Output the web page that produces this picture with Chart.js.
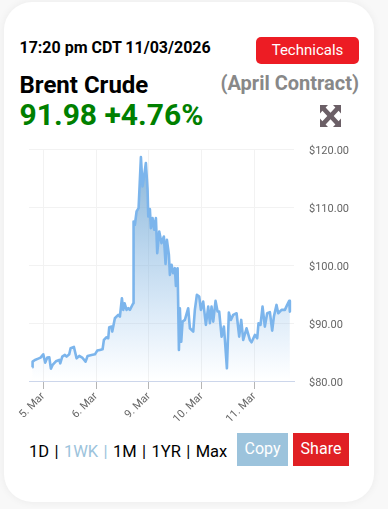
<!DOCTYPE html>
<html>
<head>
<meta charset="utf-8">
<script src="https://cdn.jsdelivr.net/npm/chart.js@4"></script>
<style>
html, body { margin: 0; padding: 0; width: 388px; height: 509px; overflow: hidden; background: #f8f8f8; font-family: Roboto, sans-serif; }
.card { position: absolute; left: 4px; top: 2px; width: 370px; height: 500px; background: #fff; border-radius: 28px; box-shadow: 0 0 8px rgba(0,0,0,0.06); }
.t { position: absolute; white-space: nowrap; line-height: 1; }
.btn { position: absolute; color: #fff; text-align: center; }
#chart { position: absolute; left: 0; top: 135px; }
</style>
</head>
<body>
<div class="card"></div>
<div class="t" style="left:19.5px;top:40px;font-size:16px;font-weight:700;color:#000">17:20 pm CDT 11/03/2026</div>
<div class="btn" style="left:256px;top:37px;width:103px;height:27px;line-height:27px;background:#ed1c24;border-radius:5px;font-size:15px">Technicals</div>
<div class="t" style="left:19.5px;top:73px;font-size:24px;font-weight:700;color:#000">Brent Crude</div>
<div class="t" style="right:29px;top:73px;font-size:20px;font-weight:700;color:#888">(April Contract)</div>
<div class="t" style="left:19.5px;top:100px;font-size:30px;font-weight:700;color:#008000">91.98 +4.76%</div>
<svg style="position:absolute;left:320px;top:105px" width="21" height="22" viewBox="0 0 21 21" preserveAspectRatio="none">
  <g fill="#6b5f66">
    <path d="M0 0H8L5.6 2.4 10.5 7.3 15.4 2.4 13 0H21V8L18.6 5.6 13.7 10.5 18.6 15.4 21 13V21H13L15.4 18.6 10.5 13.7 5.6 18.6 8 21H0V13L2.4 15.4 7.3 10.5 2.4 5.6 0 8Z"/>
  </g>
</svg>
<canvas id="chart" width="359" height="295"></canvas>
<div class="t" style="left:29px;top:444px;font-size:16.5px;color:#000;word-spacing:1.3px">1D | <span style="color:#9cc3dc">1WK |</span> 1M | 1YR | Max</div>
<div class="btn" style="left:237px;top:433px;width:51px;height:33px;line-height:31px;background:#9cc3dc;font-size:16px">Copy</div>
<div class="btn" style="left:293px;top:433px;width:56px;height:33px;line-height:31px;background:#e02024;font-size:16px">Share</div>
<script>
// x is trading days counted from 5. Mar, y is the price in dollars
const tickDays = [0, 1, 2, 3, 4];
const tickLabels = ['5. Mar', '6. Mar', '9. Mar', '10. Mar', '11. Mar'];
const priceTicks = [80, 90, 100, 110, 120];

const days = [
  -0.208, -0.202, -0.158, -0.095, -0.051, 0, 0.038, 0.076, 0.114, 0.145, 0.177, 0.24, 0.303, 0.322, 0.36, 0.41, 0.442, 0.492, 0.518, 0.581,
  0.631, 0.682, 0.745, 0.802, 0.84, 0.915, 0.979, 1.023, 1.073, 1.124, 1.149, 1.199, 1.231, 1.25, 1.294, 1.307, 1.357, 1.42, 1.452, 1.49,
  1.515, 1.54, 1.578, 1.61, 1.641, 1.705, 1.711, 1.736, 1.768, 1.806, 1.85, 1.881, 1.919, 1.944, 1.976, 1.989, 2.02, 2.039, 2.071, 2.102,
  2.134, 2.159, 2.197, 2.241, 2.285, 2.317, 2.342, 2.38, 2.399, 2.431, 2.462, 2.494, 2.513, 2.545, 2.57, 2.588, 2.614, 2.639, 2.683, 2.746,
  2.778, 2.841, 2.872, 2.91, 2.955, 2.986, 3.03, 3.081, 3.125, 3.157, 3.188, 3.22, 3.264, 3.302, 3.333, 3.378, 3.422, 3.441, 3.479, 3.516,
  3.554, 3.598, 3.662, 3.712, 3.75, 3.788, 3.851, 3.914, 3.946, 4.009, 4.053, 4.078, 4.116, 4.154, 4.198, 4.242, 4.293, 4.337, 4.369, 4.419,
  4.451, 4.514, 4.577, 4.621, 4.659, 4.672
];
const prices = [
  82.36, 83.34, 83.63, 83.86, 84.03, 84.6, 83.17, 84.03, 84.09, 82.13, 82.76, 83.4, 83.63, 83.05, 84.2, 84.49, 84.2, 84.6, 85.64, 85.87,
  83.91, 84.32, 83.97, 83.34, 84.32, 84.49, 84.6, 85.24, 85.35, 85.47, 87.08, 87.54, 87.37, 89.27, 89.38, 88.52, 90.82, 91.4, 91.11, 94.27,
  92.26, 93.41, 92.26, 92.55, 92.26, 93.41, 107.51, 106.94, 109.24, 109.81, 118.62, 113.55, 115.86, 117.58, 112.98, 108.37, 109.64, 106.36, 108.09, 106.07,
  108.09, 102.04, 105.78, 103.77, 104.92, 100.2, 104.35, 101.76, 98.3, 100.03, 98.59, 99.45, 96.4, 99.45, 85.35, 92.55, 86.79, 90.24, 90.53, 92.55,
  89.09, 88.52, 92.26, 94.85, 94.56, 92.26, 93.7, 89.67, 92.83, 89.96, 92.83, 90.24, 93.81, 91.97, 91.97, 87.65, 89.38, 87.08, 82.19, 91.8,
  90.53, 91.4, 91.68, 87.65, 90.53, 87.08, 89.09, 87.08, 86.68, 87.94, 87.37, 89.96, 89.67, 92.83, 89.38, 91.68, 91.86, 88.69, 91.11, 93.12,
  91.68, 92.26, 92.26, 93.12, 93.81, 91.97
];

// the rotated labels would otherwise push the plot area in from its edges
function noPadding(axis) {
  axis.paddingLeft = 0;
  axis.paddingRight = 0;
  axis.paddingTop = 0;
  axis.paddingBottom = 0;
}

const ctx = document.getElementById('chart').getContext('2d');
new Chart(ctx, {
  type: 'line',
  data: {
    datasets: [{
      data: days.map((d, i) => ({ x: d, y: prices[i] })),
      borderColor: '#7cb5ec',
      borderWidth: 2.6,
      borderJoinStyle: 'round',
      pointRadius: 0,
      tension: 0,
      fill: true,
      backgroundColor: (c) => {
        const area = c.chart.chartArea;
        if (!area) return 'rgba(124,181,236,0.7)';
        const g = c.chart.ctx.createLinearGradient(0, area.top, 0, area.bottom);
        g.addColorStop(0, 'rgba(120,170,208,0.9)');
        g.addColorStop(1, 'rgba(124,181,236,0)');
        return g;
      }
    }]
  },
  options: {
    responsive: false,
    animation: false,
    layout: { padding: { top: 14, left: 29 } },
    plugins: { legend: { display: false }, tooltip: { enabled: false } },
    scales: {
      x: {
        type: 'linear',
        min: -0.27,
        max: 4.75,
        afterBuildTicks: (axis) => { axis.ticks = tickDays.map(v => ({ value: v })); },
        afterFit: (axis) => { axis.height = 49; noPadding(axis); },
        border: { color: '#ccd6eb' },
        grid: { color: '#f2f2f2', tickColor: '#b5b5b5', tickLength: 8 },
        ticks: {
          autoSkip: false,
          minRotation: 45,
          maxRotation: 45,
          padding: 1,
          color: '#666',
          font: { family: 'Roboto', size: 11 },
          callback: (v) => tickLabels[tickDays.indexOf(v)]
        }
      },
      y: {
        position: 'right',
        min: 80,
        max: 120,
        afterBuildTicks: (axis) => { axis.ticks = priceTicks.map(v => ({ value: v })); },
        afterFit: (axis) => { axis.width = 65; noPadding(axis); },
        border: { display: false },
        grid: { color: '#f2f2f2', drawTicks: false },
        ticks: {
          padding: 15,
          labelOffset: 2,
          color: '#666',
          font: { family: 'Roboto', size: 11 },
          callback: (v) => '$' + v.toFixed(2)
        }
      }
    }
  }
});
</script>
</body>
</html>
